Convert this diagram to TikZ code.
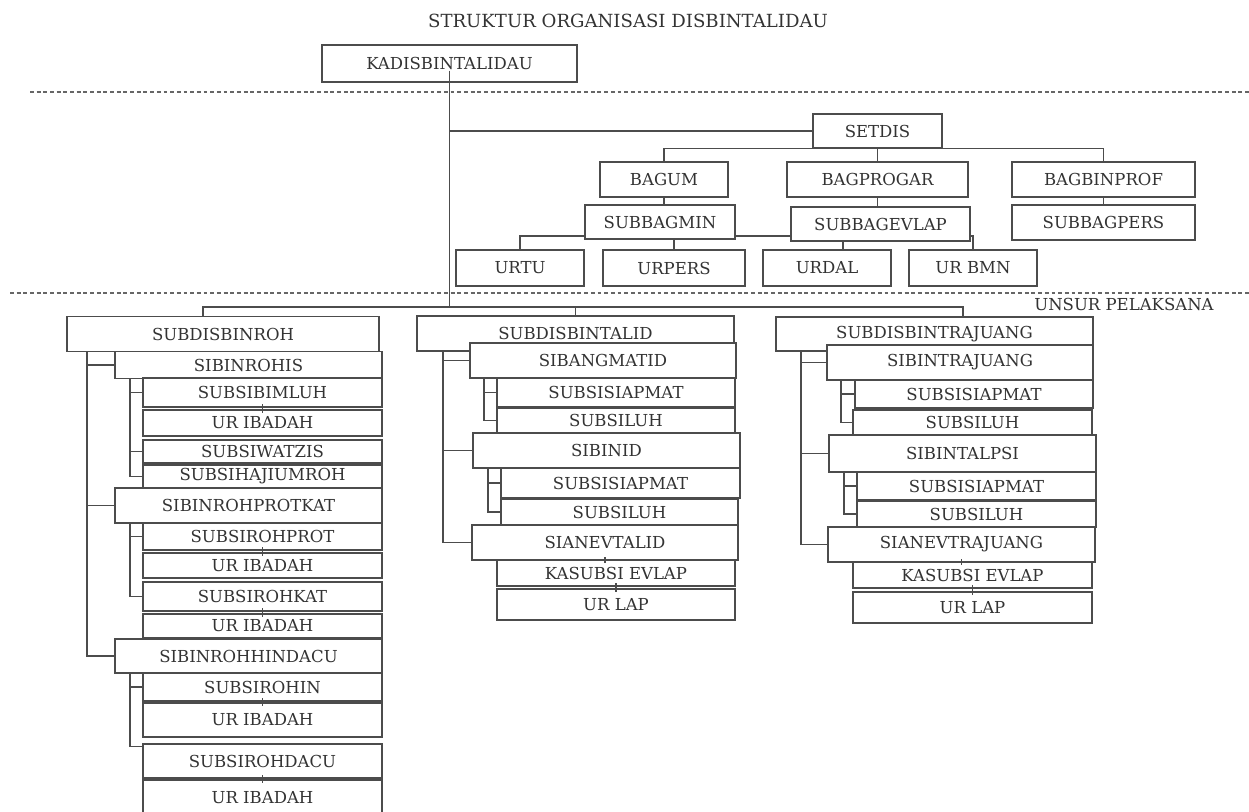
\documentclass[tikz,border=0pt]{standalone}
\usepackage{fontspec}
\setmainfont{DejaVu Serif}

\begin{document}
\begin{tikzpicture}[x=0.02cm,y=-0.02cm,
  box/.style 2 args={draw=black!70,fill=white,line width=0.7pt,inner sep=0pt,
    minimum width=#1*0.02cm,minimum height=#2*0.02cm,text=black!80,
    font=\fontsize{9.4}{11}\selectfont},
  link/.style={draw=black!70,line width=0.7pt},
  sep/.style={draw=black!60,line width=0.6pt,dash pattern=on 2.2pt off 1.6pt}]

\useasboundingbox (0,0) rectangle (1249,812);

\def\joinbox#1#2{\draw[link] ([yshift=2pt]#1.south) -- ([yshift=-2pt]#1.south |- #2.north);}

\node[text=black!80,font=\fontsize{10.3}{12}\selectfont] (title) at (628,21) {STRUKTUR ORGANISASI DISBINTALIDAU};
\node[box={255}{37}] (kadis) at (449.5,63.5) {KADISBINTALIDAU};

\draw[sep] (30,92) -- (1249,92);
\draw[sep] (10,293) -- (1249,293);
\node[text=black!80,font=\fontsize{9.4}{11}\selectfont] (unsur) at (1124,304) {UNSUR PELAKSANA};

% staf
\node[box={129}{34}] (setdis) at (877.5,131) {SETDIS};
\node[box={128}{35}] (bagum) at (664,179.5) {BAGUM};
\node[box={181}{35}] (bagprogar) at (877.5,179.5) {BAGPROGAR};
\node[box={183}{35}] (bagbinprof) at (1103.5,179.5) {BAGBINPROF};
\node[box={150}{34}] (subbagmin) at (660,222) {SUBBAGMIN};
\node[box={179}{34}] (subbagevlap) at (880.5,224) {SUBBAGEVLAP};
\node[box={183}{35}] (subbagpers) at (1103.5,222.5) {SUBBAGPERS};
\node[box={128}{36}] (urtu) at (520,268) {URTU};
\node[box={142}{36}] (urpers) at (674,268) {URPERS};
\node[box={128}{36}] (urdal) at (827,268) {URDAL};
\node[box={128}{36}] (urbmn) at (973,268) {UR BMN};

\draw[link] (kadis.south |- setdis.west) -- (setdis.west);
\draw[link] (bagum.north) |- (setdis.south west);
\draw[link] (setdis.south east) -| (bagbinprof.north);
\draw[link] (setdis.south) -- (bagprogar.north);
\draw[link] (bagum.south) -- (bagum.south |- subbagmin.north);
\draw[link] (bagprogar.south) -- (bagprogar.south |- subbagevlap.north);
\draw[link] (bagbinprof.south) -- (subbagpers.north);

\coordinate (bagbar) at (0,236);
\draw[link] (urtu.north) |- (subbagmin.west |- bagbar);
\draw[link] (subbagmin.east |- bagbar) -- (subbagevlap.west |- bagbar);
\draw[link] (subbagevlap.east |- bagbar) -| (urbmn.north);
\draw[link] (urpers.north) -- (urpers.north |- subbagmin.south);
\draw[link] ([xshift=0.32cm]urdal.north) -- ([xshift=0.32cm]urdal.north |- subbagevlap.south);

% unsur pelaksana
\node[box={312}{35}] (subroh) at (223,334) {SUBDISBINROH};
\node[box={267}{27}] (sibinrohis) at (248.5,365) {SIBINROHIS};
\node[box={239}{29}] (subsibimluh) at (262.5,392.5) {SUBSIBIMLUH};
\node[box={239}{26}] (uribadahA) at (262.5,423) {UR IBADAH};
\node[box={239}{23}] (subsiwatzis) at (262.5,451.5) {SUBSIWATZIS};
\node[box={239}{23}] (subsihaji) at (262.5,476.5) {SUBSIHAJIUMROH};
\node[box={267}{35}] (sibinrohprotkat) at (248.5,505.5) {SIBINROHPROTKAT};
\node[box={239}{27}] (subsirohprot) at (262.5,536.5) {SUBSIROHPROT};
\node[box={239}{25}] (uribadahB) at (262.5,565.5) {UR IBADAH};
\node[box={239}{29}] (subsirohkat) at (262.5,596.5) {SUBSIROHKAT};
\node[box={239}{24}] (uribadahC) at (262.5,626) {UR IBADAH};
\node[box={267}{34}] (sibinrohhindacu) at (248.5,656) {SIBINROHHINDACU};
\node[box={239}{28}] (subsirohin) at (262.5,687) {SUBSIROHIN};
\node[box={239}{34}] (uribadahD) at (262.5,720) {UR IBADAH};
\node[box={239}{34}] (subsirohdacu) at (262.5,761) {SUBSIROHDACU};
\node[box={239}{36}] (uribadahE) at (262.5,798) {UR IBADAH};

\node[box={317}{35}] (subtalid) at (575.5,333.5) {SUBDISBINTALID};
\node[box={266}{35}] (sibangmatid) at (603,360.5) {SIBANGMATID};
\node[box={238}{29}] (subsisiapmatA) at (616,392.5) {SUBSISIAPMAT};
\node[box={238}{25}] (subsiluhA) at (616,420.5) {SUBSILUH};
\node[box={267}{35}] (sibinid) at (606.5,450.5) {SIBINID};
\node[box={239}{30}] (subsisiapmatB) at (620.5,483) {SUBSISIAPMAT};
\node[box={237}{26}] (subsiluhB) at (619.5,512) {SUBSILUH};
\node[box={266}{35}] (sianevtalid) at (605,542.5) {SIANEVTALID};
\node[box={238}{26}] (kasubsiA) at (616,573) {KASUBSI EVLAP};
\node[box={238}{31}] (urlapA) at (616,604.5) {UR LAP};

\node[box={317}{34}] (subtraj) at (934.5,334) {SUBDISBINTRAJUANG};
\node[box={266}{35}] (sibintraj) at (960,362.5) {SIBINTRAJUANG};
\node[box={238}{28}] (subsisiapmatC) at (974,394) {SUBSISIAPMAT};
\node[box={239}{25}] (subsiluhC) at (972.5,422.5) {SUBSILUH};
\node[box={267}{37}] (sibintalpsi) at (962.5,453.5) {SIBINTALPSI};
\node[box={239}{28}] (subsisiapmatD) at (976.5,486) {SUBSISIAPMAT};
\node[box={239}{26}] (subsiluhD) at (976.5,514) {SUBSILUH};
\node[box={267}{35}] (sianevtraj) at (961.5,544.5) {SIANEVTRAJUANG};
\node[box={239}{26}] (kasubsiB) at (972.5,575) {KASUBSI EVLAP};
\node[box={239}{31}] (urlapB) at (972.5,607.5) {UR LAP};

\coordinate (dropA) at (203,307);
\coordinate (dropC) at (963,307);
\draw[link] ([yshift=0.24cm]kadis.south) -- (kadis.south |- dropA);
\draw[link] (dropA |- subroh.north) -- (dropA) -- (dropC) -- (dropC |- subtraj.north);
\draw[link] (subtalid.north) -- (subtalid.north |- dropA);

% subdisbinroh
\coordinate (rohtrunk) at (87,351);
\draw[link] (rohtrunk) |- (sibinrohhindacu.west);
\foreach \n in {sibinrohis,sibinrohprotkat}
  \draw[link] (rohtrunk |- \n.west) -- (\n.west);
\coordinate (hisA) at (130,378);
\draw[link] (hisA) |- (subsihaji.west);
\foreach \n in {subsibimluh,subsiwatzis}
  \draw[link] (hisA |- \n.west) -- (\n.west);
\coordinate (hisB) at (130,523);
\draw[link] (hisB) |- (subsirohkat.west);
\draw[link] (hisB |- subsirohprot.west) -- (subsirohprot.west);
\coordinate (hisC) at (130,673);
\draw[link] (hisC) |- ([yshift=-0.06cm]subsirohdacu.north west);
\draw[link] (hisC |- subsirohin.west) -- (subsirohin.west);
\joinbox{subsibimluh}{uribadahA}
\joinbox{subsirohprot}{uribadahB}
\joinbox{subsirohkat}{uribadahC}
\joinbox{subsirohin}{uribadahD}
\joinbox{subsirohdacu}{uribadahE}

% subdisbintalid
\coordinate (talidtrunk) at (443,351);
\draw[link] (talidtrunk) |- (sianevtalid.west);
\foreach \n in {sibangmatid,sibinid}
  \draw[link] (talidtrunk |- \n.west) -- (\n.west);
\coordinate (talidA) at (484,378);
\draw[link] (talidA) |- (subsiluhA.west);
\draw[link] (talidA |- subsisiapmatA.west) -- (subsisiapmatA.west);
\coordinate (talidB) at (488,468);
\draw[link] (talidB) |- (subsiluhB.west);
\draw[link] (talidB |- subsisiapmatB.west) -- (subsisiapmatB.west);
\joinbox{sianevtalid}{kasubsiA}
\joinbox{kasubsiA}{urlapA}

% subdisbintrajuang
\coordinate (trajtrunk) at (801,351);
\draw[link] (trajtrunk) |- (sianevtraj.west);
\foreach \n in {sibintraj,sibintalpsi}
  \draw[link] (trajtrunk |- \n.west) -- (\n.west);
\coordinate (trajA) at (841,380);
\draw[link] (trajA) |- (subsiluhC.west);
\draw[link] (trajA |- subsisiapmatC.west) -- (subsisiapmatC.west);
\coordinate (trajB) at (844,472);
\draw[link] (trajB) |- (subsiluhD.west);
\draw[link] (trajB |- subsisiapmatD.west) -- (subsisiapmatD.west);
\joinbox{sianevtraj}{kasubsiB}
\joinbox{kasubsiB}{urlapB}

\end{tikzpicture}
\end{document}
